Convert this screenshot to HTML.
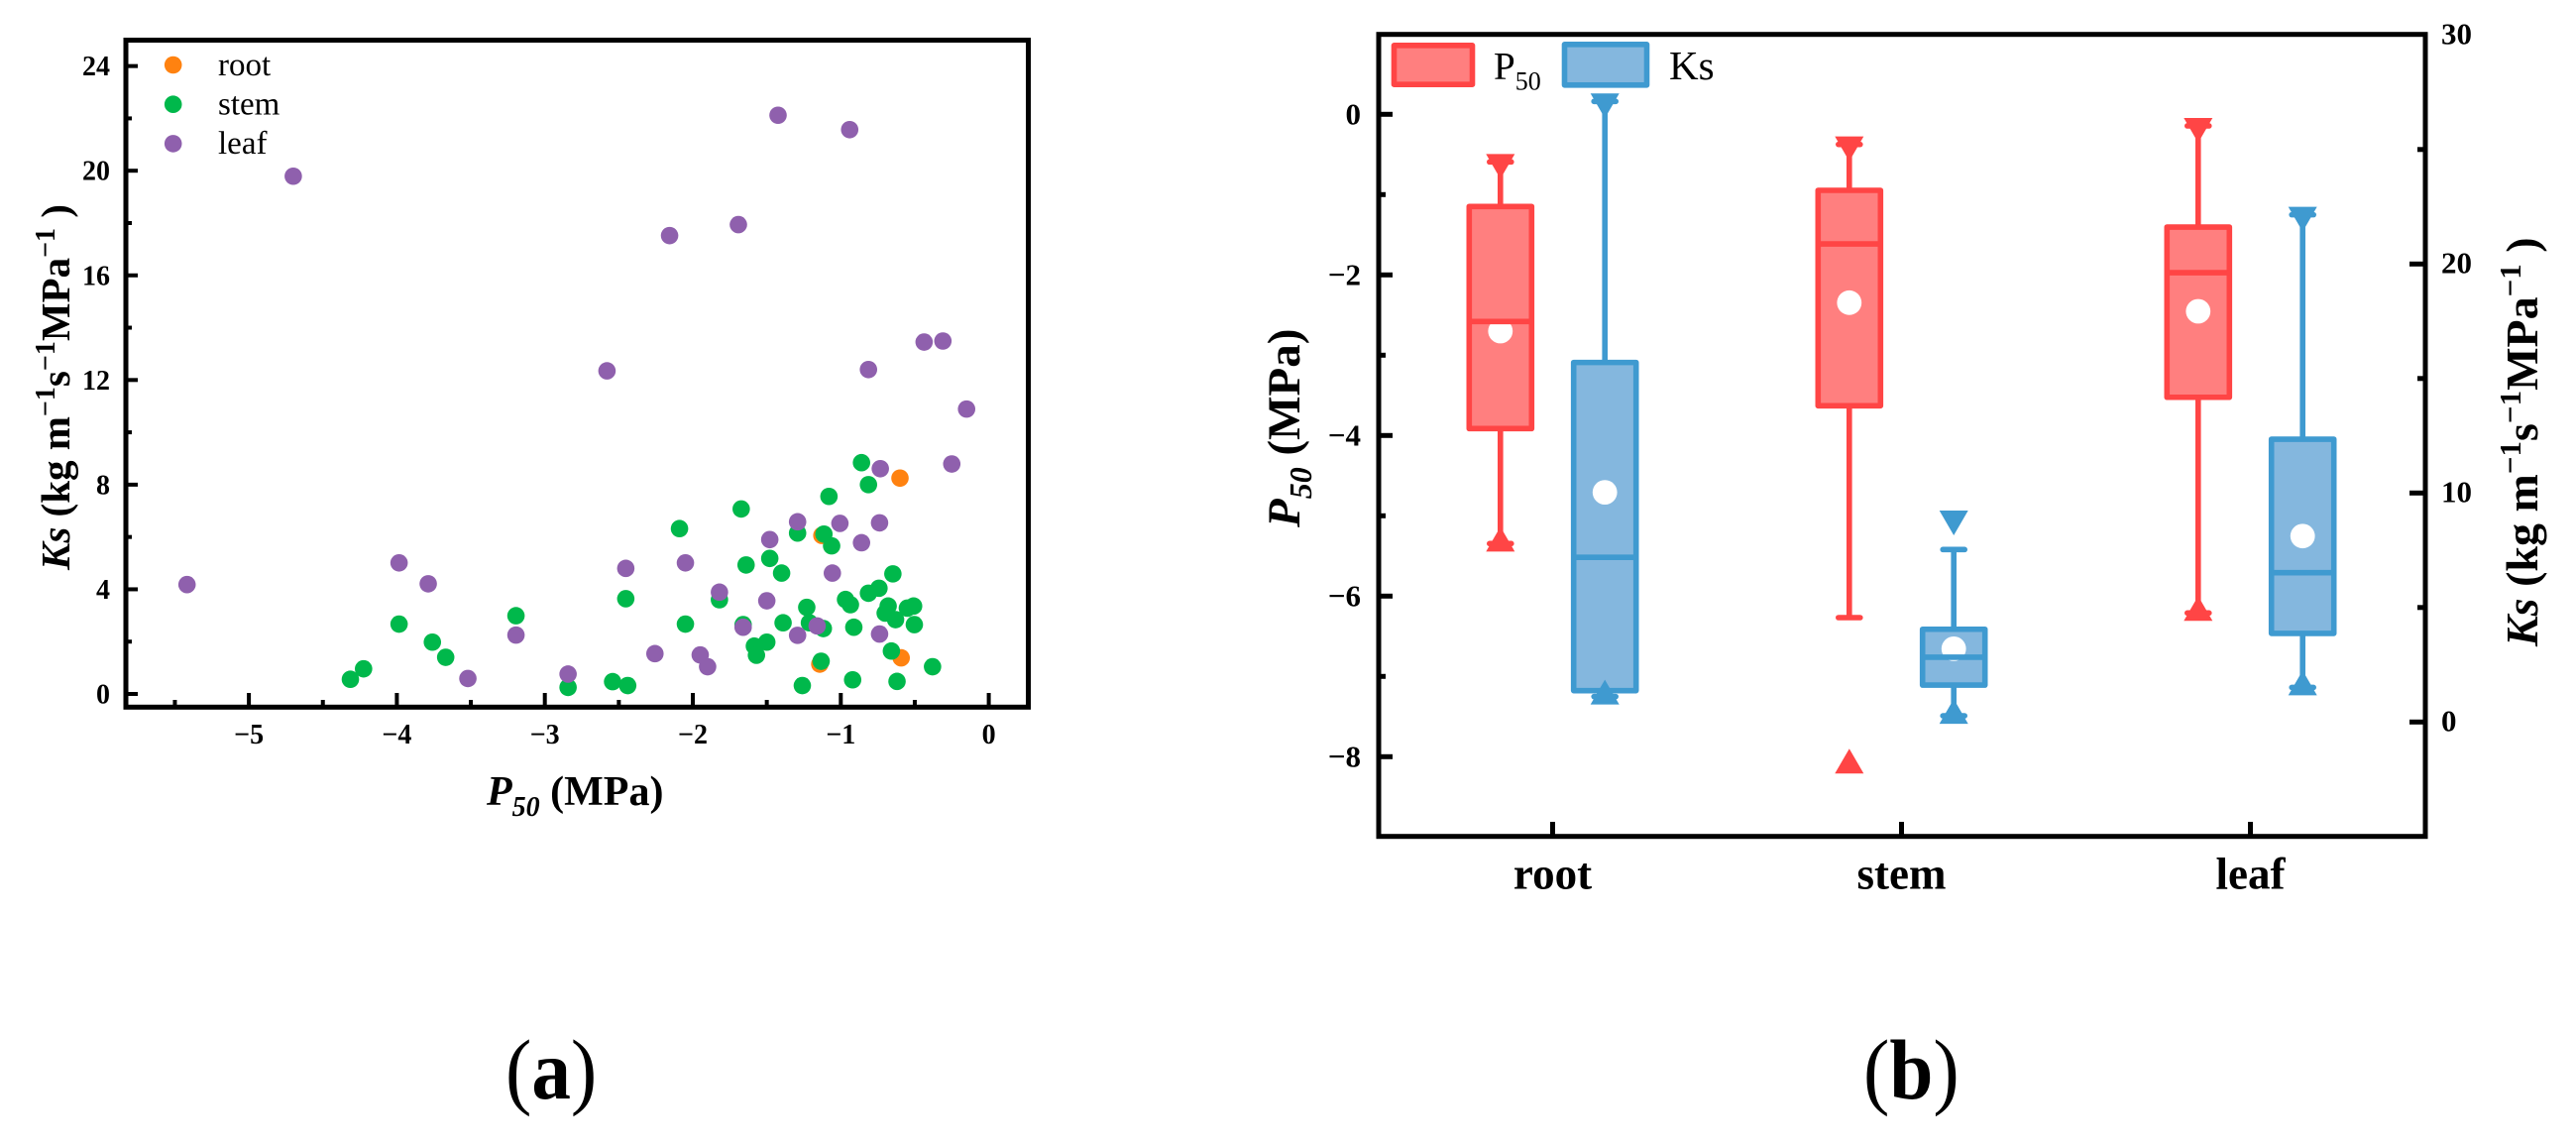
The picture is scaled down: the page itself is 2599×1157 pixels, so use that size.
<!DOCTYPE html>
<html lang="en">
<head>
<meta charset="utf-8">
<title>P50 and Ks charts</title>
<style>
html,body{margin:0;padding:0;background:#fff;width:2599px;height:1157px;overflow:hidden}
svg{display:block;font-family:"Liberation Serif",serif}
</style>
</head>
<body>
<svg id="figure" xmlns="http://www.w3.org/2000/svg" width="2599" height="1157" viewBox="0 0 2599 1157">
  <rect x="0" y="0" width="2599" height="1157" fill="#fff"/>
  <g id="panelA"></g>
  <g id="panelB"></g>

  <text x="491" y="812" font-size="42" font-weight="bold"><tspan font-style="italic">P</tspan><tspan font-style="italic" font-size="28" dy="11">50</tspan><tspan dy="-11"> (MPa)</tspan></text>
  <text transform="translate(70,575) rotate(-90)" font-size="41" font-weight="bold"><tspan font-style="italic">Ks</tspan> (kg m<tspan font-size="28" dy="-15">−1</tspan><tspan dy="15">s</tspan><tspan font-size="28" dy="-15">−1</tspan><tspan dy="15">MPa</tspan><tspan font-size="28" dy="-15">−1</tspan><tspan dy="15"> )</tspan></text>

  <text transform="translate(1311,532) rotate(-90)" font-size="47" font-weight="bold"><tspan font-style="italic">P</tspan><tspan font-style="italic" font-size="32" dy="12">50</tspan><tspan dy="-12"> (MPa)</tspan></text>
  <text transform="translate(2560,652) rotate(-90)" font-size="46" font-weight="bold"><tspan font-style="italic">Ks</tspan> (kg m<tspan font-size="31" dy="-17">−1</tspan><tspan dy="17">s</tspan><tspan font-size="31" dy="-17">−1</tspan><tspan dy="17">MPa</tspan><tspan font-size="31" dy="-17">−1</tspan><tspan dy="17"> )</tspan></text>

  <text x="510" y="1108" font-size="86" transform="translate(510,0) scale(0.92,1) translate(-510,0)">(<tspan font-weight="bold">a</tspan>)</text>
  <text x="1880" y="1108" font-size="86" transform="translate(1880,0) scale(0.92,1) translate(-1880,0)">(<tspan font-weight="bold">b</tspan>)</text>
</svg>

<script>
// ---------- Scatter chart data ----------
const scatterXTicks = [-5, -4, -3, -2, -1, 0];
const scatterXMinorTicks = [-5.5, -4.5, -3.5, -2.5, -1.5, -0.5];
const scatterYTicks = [0, 4, 8, 12, 16, 20, 24];
const scatterYMinorTicks = [2, 6, 10, 14, 18, 22];

const rootP50 = [-0.60, -1.128, -0.592, -1.142];
const rootKs = [8.25, 6.06, 1.38, 1.14];

const stemP50 = [-0.86, -0.813, -1.08, -1.673, -2.09, -1.292, -1.114, -1.062, -1.48, -1.64, -1.40, -0.648, -0.742, -0.813, -0.968, -0.935, -1.82, -2.453, -1.23, -0.68, -0.70, -0.508, -0.55, -0.63, -0.503, -0.912, -1.118, -1.212, -1.39, -1.66, -2.05, -3.195, -3.985, -3.76, -3.67, -4.225, -4.314, -2.843, -2.542, -2.44, -1.50, -1.584, -1.57, -0.658, -1.133, -1.26, -0.92, -0.62, -0.38];
const stemKs = [8.84, 8.0, 7.55, 7.07, 6.32, 6.15, 6.11, 5.66, 5.18, 4.93, 4.62, 4.59, 4.04, 3.85, 3.61, 3.41, 3.60, 3.64, 3.31, 3.36, 3.09, 3.36, 3.28, 2.84, 2.65, 2.55, 2.50, 2.72, 2.72, 2.65, 2.67, 2.99, 2.67, 1.98, 1.40, 0.96, 0.56, 0.25, 0.47, 0.32, 1.98, 1.83, 1.48, 1.64, 1.25, 0.32, 0.54, 0.48, 1.04];

const leafP50 = [-4.70, -1.424, -0.94, -2.157, -1.692, -2.58, -0.813, -0.437, -0.31, -0.15, -0.25, -0.733, -1.292, -1.006, -0.738, -1.48, -0.86, -3.985, -2.05, -2.453, -1.057, -5.418, -3.788, -1.82, -1.50, -3.195, -1.66, -1.16, -1.292, -0.738, -2.256, -1.95, -1.90, -2.843, -3.52];
const leafKs = [19.79, 22.12, 21.57, 17.52, 17.94, 12.35, 12.40, 13.45, 13.49, 10.89, 8.79, 8.61, 6.58, 6.52, 6.54, 5.90, 5.78, 5.01, 5.01, 4.80, 4.62, 4.18, 4.21, 3.89, 3.56, 2.25, 2.55, 2.60, 2.24, 2.29, 1.54, 1.49, 1.04, 0.76, 0.59];

// ---------- Box chart data ----------
const categories = ["root", "stem", "leaf"];
const leftTicks = [0, -2, -4, -6, -8];
const leftMinorTicks = [-1, -3, -5, -7];
const rightTicks = [0, 10, 20, 30];
const rightMinorTicks = [5, 15, 25];

const p50Q3 = [-1.148, -0.947, -1.404];
const p50Q1 = [-3.914, -3.63, -3.524];
const p50Median = [-2.58, -1.614, -1.972];
const p50Mean = [-2.70, -2.346, -2.453];
const p50WhiskerHigh = [-0.593, -0.375, -0.144];
const p50WhiskerLow = [-5.346, -6.268, -6.21];
const p50MaxMarker = [-0.593, -0.375, -0.144];
const p50MinMarker = [-5.346, -8.11, -6.21];

const ksQ3 = [15.7, 4.05, 12.35];
const ksQ1 = [1.37, 1.61, 3.87];
const ksMedian = [7.19, 2.83, 6.52];
const ksMean = [10.03, 3.2, 8.12];
const ksWhiskerHigh = [27.1, 7.53, 22.15];
const ksWhiskerLow = [1.11, 0.27, 1.51];
const ksMaxMarker = [27.1, 8.89, 22.15];
const ksMinMarker = [1.11, 0.27, 1.51];

// ---------- Axis functions ----------
const scatterX = v => 997.6 + 149.3 * v;
const scatterY = v => 700 - 26.39 * v;
const categoryX = i => 1566.5 + 352 * i;
const leftY = v => 115.3 - 81 * v;
const rightY = v => 728.3 - 23.1 * v;

const NS = "http://www.w3.org/2000/svg";
function make(parent, tag, attrs, text) {
  const el = document.createElementNS(NS, tag);
  for (const k in attrs) el.setAttribute(k, attrs[k]);
  if (text !== undefined) el.textContent = text;
  parent.appendChild(el);
  return el;
}
function minus(v) { return String(v).replace("-", "\u2212"); }

const panelA = document.getElementById("panelA");
const panelB = document.getElementById("panelB");
const RED = "#ff4545", RED_FILL = "#ff7f7f", BLUE = "#3f9ad0", BLUE_FILL = "#84b7de";
const BOX_LINE = 5.6;

// ---------- Scatter marks ----------
const seriesList = [
  { key: "root", xs: rootP50, ys: rootKs, color: "#ff8210" },
  { key: "stem", xs: stemP50, ys: stemKs, color: "#00b84b" },
  { key: "leaf", xs: leafP50, ys: leafKs, color: "#8f60ad" }
];
seriesList.forEach(s => {
  s.xs.forEach((x, i) => {
    const c = make(panelA, "circle", { cx: scatterX(x), cy: scatterY(s.ys[i]), r: 8.8, fill: s.color });
    
    
  });
});

// Scatter frame
const frameA = make(panelA, "rect", { x: 127, y: 40.5, width: 910.5, height: 672.8, fill: "none", stroke: "#000", "stroke-width": 5 });



scatterXTicks.forEach(v => {
  const t = make(panelA, "line", { x1: scatterX(v), x2: scatterX(v), y1: 711, y2: 699, stroke: "#000", "stroke-width": 4 });
  
  
  const l = make(panelA, "text", { x: scatterX(v), y: 750, "font-size": 28, "font-weight": "bold", "text-anchor": "middle" }, minus(v));
  
  
});
scatterXMinorTicks.forEach(v => {
  const t = make(panelA, "line", { x1: scatterX(v), x2: scatterX(v), y1: 711, y2: 706, stroke: "#000", "stroke-width": 4 });
  
  
});
scatterYTicks.forEach(v => {
  const t = make(panelA, "line", { x1: 129, x2: 139, y1: scatterY(v), y2: scatterY(v), stroke: "#000", "stroke-width": 4 });
  
  
  const l = make(panelA, "text", { x: 111, y: scatterY(v) + 9.5, "font-size": 28, "font-weight": "bold", "text-anchor": "end" }, minus(v));
  
  
});
scatterYMinorTicks.forEach(v => {
  const t = make(panelA, "line", { x1: 129, x2: 133, y1: scatterY(v), y2: scatterY(v), stroke: "#000", "stroke-width": 4 });
  
  
});

// Scatter legend
seriesList.forEach((s, i) => {
  const m = make(panelA, "circle", { cx: 174.7, cy: 65.5 + 39.7 * i, r: 8.8, fill: s.color });
  
  
  const t = make(panelA, "text", { x: 220, y: 76 + 39.5 * i, "font-size": 33 }, s.key);
  
  
});

// ---------- Box marks ----------
function triangle(parent, cx, y, dir, color) {
  const flat = y - dir * 8, apex = y + dir * 17;
  return make(parent, "polygon", { points: (cx - 14.5) + "," + flat + " " + (cx + 14.5) + "," + flat + " " + cx + "," + apex, fill: color });
}
function drawBox(name, cx, scale, q1, q3, med, mean, wLow, wHigh, maxM, minM, stroke, fill) {
  const w1 = make(panelB, "line", { x1: cx, x2: cx, y1: scale(q3), y2: scale(wHigh), stroke: stroke, "stroke-width": BOX_LINE });
  
  
  const w2 = make(panelB, "line", { x1: cx, x2: cx, y1: scale(q1), y2: scale(wLow), stroke: stroke, "stroke-width": BOX_LINE });
  
  
  const c1 = make(panelB, "line", { x1: cx - 11, x2: cx + 11, y1: scale(wHigh), y2: scale(wHigh), stroke: stroke, "stroke-width": BOX_LINE, "stroke-linecap": "round" });
  
  
  const c2 = make(panelB, "line", { x1: cx - 11, x2: cx + 11, y1: scale(wLow), y2: scale(wLow), stroke: stroke, "stroke-width": BOX_LINE, "stroke-linecap": "round" });
  
  
  const box = make(panelB, "rect", { x: cx - 31.5, y: scale(q3), width: 63, height: scale(q1) - scale(q3), fill: fill, stroke: stroke, "stroke-width": BOX_LINE, "stroke-linejoin": "round" });
  
  
  const mn = make(panelB, "circle", { cx: cx, cy: scale(mean), r: 12.4, fill: "#fff" });
  
  
  const md = make(panelB, "line", { x1: cx - 31.5, x2: cx + 31.5, y1: scale(med), y2: scale(med), stroke: stroke, "stroke-width": BOX_LINE });
  
  
  const tMax = triangle(panelB, cx, scale(maxM), 1, stroke);
  
  
  const tMin = triangle(panelB, cx, scale(minM), -1, stroke);
  
  
}
categories.forEach((c, i) => {
  drawBox('p50-' + c, categoryX(i) - 52.7, leftY, p50Q1[i], p50Q3[i], p50Median[i], p50Mean[i], p50WhiskerLow[i], p50WhiskerHigh[i], p50MaxMarker[i], p50MinMarker[i], RED, RED_FILL);
  drawBox('ks-' + c, categoryX(i) + 52.7, rightY, ksQ1[i], ksQ3[i], ksMedian[i], ksMean[i], ksWhiskerLow[i], ksWhiskerHigh[i], ksMaxMarker[i], ksMinMarker[i], BLUE, BLUE_FILL);
});

// Box frame and axes
const frameB = make(panelB, "rect", { x: 1391, y: 34.7, width: 1056, height: 809, fill: "none", stroke: "#000", "stroke-width": 5 });



categories.forEach((c, i) => {
  const t = make(panelB, "line", { x1: categoryX(i), x2: categoryX(i), y1: 842, y2: 829, stroke: "#000", "stroke-width": 5 });
  
  
  const l = make(panelB, "text", { x: categoryX(i), y: 896.7, "font-size": 45, "font-weight": "bold", "text-anchor": "middle" }, c);
  
  
});
leftTicks.forEach(v => {
  const t = make(panelB, "line", { x1: 1392, x2: 1405, y1: leftY(v), y2: leftY(v), stroke: "#000", "stroke-width": 5 });
  
  
  const l = make(panelB, "text", { x: 1373, y: leftY(v) + 10, "font-size": 31, "font-weight": "bold", "text-anchor": "end" }, minus(v));
  
  
});
leftMinorTicks.forEach(v => {
  const t = make(panelB, "line", { x1: 1392, x2: 1398, y1: leftY(v), y2: leftY(v), stroke: "#000", "stroke-width": 5 });
  
  
});
rightTicks.forEach(v => {
  if (v < 30) {
    const t = make(panelB, "line", { x1: 2446, x2: 2431, y1: rightY(v), y2: rightY(v), stroke: "#000", "stroke-width": 5 });
    
    
  }
  const l = make(panelB, "text", { x: 2463, y: rightY(v) + 9.3, "font-size": 31, "font-weight": "bold" }, minus(v));
  
  
});
rightMinorTicks.forEach(v => {
  const t = make(panelB, "line", { x1: 2446, x2: 2439, y1: rightY(v), y2: rightY(v), stroke: "#000", "stroke-width": 5 });
  
  
});

// Box legend
const swatchP = make(panelB, "rect", { x: 1406.5, y: 45.8, width: 79, height: 39.4, fill: RED_FILL, stroke: RED, "stroke-width": BOX_LINE, "stroke-linejoin": "round" });


const legendP = make(panelB, "text", { x: 1507, y: 79.5, "font-size": 39 });


legendP.innerHTML = 'P<tspan font-size="26" dy="11">50</tspan>';
const swatchK = make(panelB, "rect", { x: 1578.5, y: 44.8, width: 83, height: 41, fill: BLUE_FILL, stroke: BLUE, "stroke-width": BOX_LINE, "stroke-linejoin": "round" });


const legendK = make(panelB, "text", { x: 1684, y: 80, "font-size": 41 }, "Ks");


</script>
</body>
</html>
